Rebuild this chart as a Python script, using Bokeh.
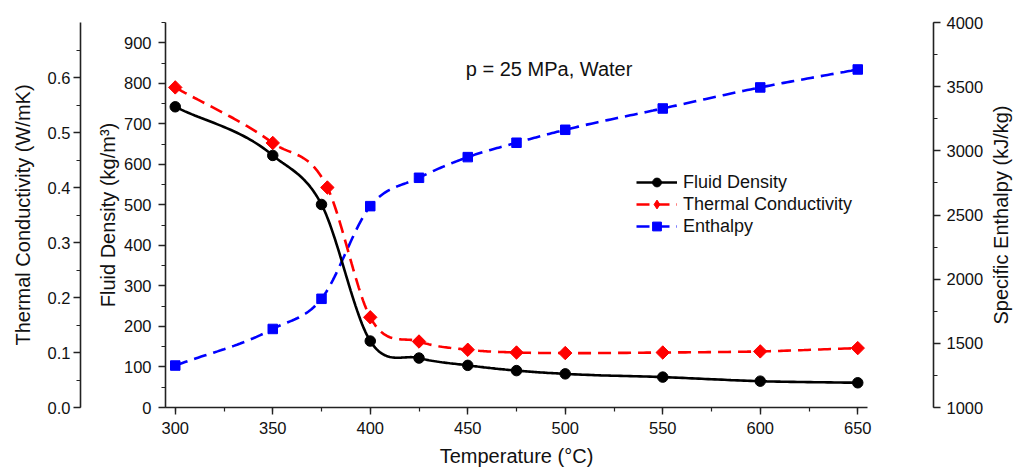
import numpy as np
from bokeh.plotting import figure
from bokeh.layouts import row
from bokeh.models import (Range1d, LinearAxis, SingleIntervalTicker, FixedTicker,
                          PrintfTickFormatter, Label, Legend, LegendItem)
from bokeh.embed import file_html
from bokeh.resources import INLINE

# ---- data ----
temps = [300, 350, 375, 400, 425, 450, 475, 500, 550, 600, 650]
tc_temps = [300, 350, 378, 400, 425, 450, 475, 500, 550, 600, 650]
density = [742, 622, 501, 164, 122, 104, 91, 83, 75, 65, 61]
conductivity = [0.582, 0.481, 0.400, 0.164, 0.120, 0.105, 0.100, 0.099, 0.100, 0.102, 0.108]
enthalpy = [1327, 1612, 1847, 2569, 2790, 2951, 3063, 3164, 3330, 3494, 3634]

x_ticks_interval = 50
note_text = "p = 25 MPa, Water"
right_title = "Specific Enthalpy (kJ/kg)"

FONT = "Liberation Sans"
TICK_FS = "16.5px"
TITLE_FS = "20px"
AX_COLOR = "#222222"


def smooth_path(xs, ys, steps=30):
    """Smooth connecting curve (cubic Hermite, Bessel tangents) through the points."""
    x = np.asarray(xs, float)
    y = np.asarray(ys, float)
    h = np.diff(x)
    d = np.diff(y) / h
    m = np.empty_like(x)
    m[0] = d[0]
    m[-1] = d[-1]
    m[1:-1] = (h[1:] * d[:-1] + h[:-1] * d[1:]) / (h[:-1] + h[1:])
    xo, yo = [], []
    for i in range(len(h)):
        t = np.linspace(0, 1, steps, endpoint=(i == len(h) - 1))
        h00 = 2 * t**3 - 3 * t**2 + 1
        h10 = t**3 - 2 * t**2 + t
        h01 = -2 * t**3 + 3 * t**2
        h11 = t**3 - t**2
        yo.append(h00 * y[i] + h10 * h[i] * m[i] + h01 * y[i + 1] + h11 * h[i] * m[i + 1])
        xo.append(x[i] + t * h[i])
    return np.concatenate(xo), np.concatenate(yo)


p = figure(frame_width=702, frame_height=385,
           x_range=Range1d(295, 655), y_range=Range1d(0, 950),
           output_backend="svg", toolbar_location=None, tools="",
           min_border_left=165, min_border_right=0,
           min_border_top=22, min_border_bottom=0,
           background_fill_color="white", border_fill_color="white")
p.outline_line_color = None
p.xgrid.visible = False
p.ygrid.visible = False

p.extra_y_ranges = {"tc": Range1d(0, 0.7), "h": Range1d(1000, 4000)}


def style_axis(ax, tick_standoff, title_standoff):
    ax.axis_line_color = AX_COLOR
    ax.axis_line_width = 1.6
    ax.major_tick_line_color = AX_COLOR
    ax.minor_tick_line_color = AX_COLOR
    ax.major_tick_line_width = 1.4
    ax.minor_tick_line_width = 1.2
    ax.major_tick_out = 7
    ax.major_tick_in = 0
    ax.minor_tick_out = 4
    ax.minor_tick_in = 0
    ax.major_label_text_font = FONT
    ax.major_label_text_font_size = TICK_FS
    ax.major_label_text_color = "#111111"
    ax.major_label_standoff = tick_standoff
    ax.axis_label_text_font = FONT
    ax.axis_label_text_font_size = TITLE_FS
    ax.axis_label_text_font_style = "normal"
    ax.axis_label_text_color = "#111111"
    ax.axis_label_standoff = title_standoff


def spacer_axis(size, tick, range_name="default"):
    """Empty axis whose only (practically invisible) tick reserves `size` pixels."""
    ax = LinearAxis(ticker=FixedTicker(ticks=[tick], minor_ticks=[]), y_range_name=range_name)
    ax.axis_line_color = None
    ax.major_tick_line_color = "white"
    ax.major_tick_line_alpha = 0.02
    ax.minor_tick_line_color = None
    ax.major_tick_in = 0
    ax.minor_tick_in = 0
    ax.major_tick_out = size
    ax.minor_tick_out = 0
    ax.major_label_standoff = 0
    ax.major_label_overrides = {tick: ""}
    ax.major_label_text_color = None
    return ax


# x axis
xa = p.xaxis[0]
xa.ticker = SingleIntervalTicker(interval=x_ticks_interval, num_minor_ticks=2)
xa.axis_label = "Temperature (°C)"
style_axis(xa, 7, 8)

# density axis (inner left)
ya = p.yaxis[0]
ya.ticker = SingleIntervalTicker(interval=100, num_minor_ticks=2)
ya.axis_label = "Fluid Density (kg/m³)"
style_axis(ya, 7, 2)

# spacer, then thermal conductivity axis (outer left)
p.add_layout(spacer_axis(13, 475), "left")
tc_axis = LinearAxis(y_range_name="tc",
                     ticker=SingleIntervalTicker(interval=0.1, num_minor_ticks=2),
                     formatter=PrintfTickFormatter(format="%.1f"),
                     axis_label="Thermal Conductivity (W/mK)")
style_axis(tc_axis, 3, 11)
p.add_layout(tc_axis, "left")

# spacer, then enthalpy axis (right)
p.add_layout(spacer_axis(66, 475), "right")
h_axis = LinearAxis(y_range_name="h",
                    ticker=SingleIntervalTicker(interval=500, num_minor_ticks=2))
style_axis(h_axis, 6, 7)
p.add_layout(h_axis, "right")

# series
hx, hy = smooth_path(temps, enthalpy)
h_line = p.line(hx, hy, y_range_name="h", line_color="#0000FF", line_width=2.6,
                line_dash="13 7")
h_pts = p.scatter(temps, enthalpy, y_range_name="h", marker="square", size=9.5,
                  fill_color="#0000FF", line_color="#0000FF")

cx, cy = smooth_path(tc_temps, conductivity)
c_line = p.line(cx, cy, y_range_name="tc", line_color="#FF0000", line_width=2.6,
                line_dash="13 7")
c_leg = p.scatter(tc_temps, conductivity, y_range_name="tc", marker="diamond", size=12,
                  fill_color="#FF0000", line_color="#FF0000")
c_pts = p.scatter(tc_temps, conductivity, y_range_name="tc", marker="square",
                  angle=np.pi / 4, size=9.5,
                  fill_color="#FF0000", line_color="#FF0000")

dx, dy = smooth_path(temps, density)
d_line = p.line(dx, dy, line_color="#000000", line_width=2.6)
d_pts = p.scatter(temps, density, marker="circle", size=10.5,
                  fill_color="#000000", line_color="#000000")

legend = Legend(items=[
    LegendItem(label="Fluid Density", renderers=[d_line, d_pts]),
    LegendItem(label="Thermal Conductivity", renderers=[c_line, c_leg]),
    LegendItem(label="Enthalpy", renderers=[h_line, h_pts]),
], location=(471, 170))
legend.border_line_color = None
legend.background_fill_alpha = 0
legend.label_text_font = FONT
legend.label_text_font_size = "18px"
legend.label_text_color = "#111111"
legend.glyph_width = 41
legend.glyph_height = 22
legend.label_height = 22
legend.spacing = 0
legend.padding = 0
legend.margin = 0
legend.label_standoff = 6
p.add_layout(legend, "center")

note = Label(x=449, y=836, text=note_text, text_font=FONT, text_font_size="20px",
             text_color="#111111", text_baseline="middle", text_align="left")
p.add_layout(note)

# narrow companion figure carrying the enthalpy axis title (reads bottom-to-top)
q = figure(frame_width=2, frame_height=385,
           x_range=Range1d(0, 1), y_range=Range1d(1000, 4000),
           output_backend="svg", toolbar_location=None, tools="",
           min_border_left=0, min_border_right=0,
           min_border_top=22, min_border_bottom=0,
           background_fill_color="white", border_fill_color="white")
q.outline_line_color = None
q.xgrid.visible = False
q.ygrid.visible = False
q.xaxis.visible = False
qa = q.yaxis[0]
qa.ticker = FixedTicker(ticks=[], minor_ticks=[])
qa.axis_line_color = None
qa.major_tick_line_color = None
qa.minor_tick_line_color = None
qa.major_tick_out = 0
qa.minor_tick_out = 0
qa.major_label_standoff = 0
qa.axis_label = right_title
qa.axis_label_standoff = 0
qa.axis_label_text_font = FONT
qa.axis_label_text_font_size = TITLE_FS
qa.axis_label_text_font_style = "normal"
qa.axis_label_text_color = "#111111"

layout = row(p, q)
open("out.html", "w").write(file_html(layout, INLINE))
